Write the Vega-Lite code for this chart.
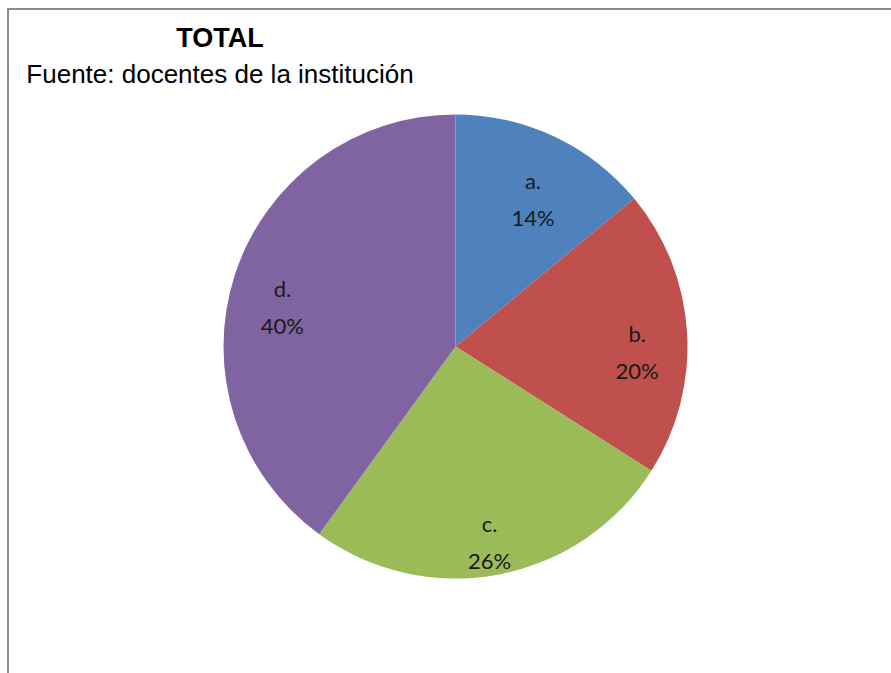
{
  "$schema": "https://vega.github.io/schema/vega-lite/v6.json",
  "width": 895,
  "height": 675,
  "autosize": {"type": "none"},
  "padding": {"left": 8, "top": 9, "right": 0, "bottom": 0},
  "background": "white",
  "view": {"stroke": "#8c8c8c", "strokeWidth": 2, "fill": "white"},
  "config": {
    "text": {"lineBreak": "\n"}
  },
  "title": {
    "text": "TOTAL",
    "subtitle": "Fuente: docentes de la institución",
    "anchor": "start",
    "align": "center",
    "dx": 212,
    "offset": -80,
    "font": "Liberation Sans",
    "fontSize": 27,
    "fontWeight": "bold",
    "color": "#000000",
    "subtitleFont": "Liberation Sans",
    "subtitleFontSize": 26,
    "subtitleColor": "#000000",
    "subtitlePadding": 9
  },
  "data": {
    "values": [
      {"category": "a.", "value": 14, "label": "a.\n14%"},
      {"category": "b.", "value": 20, "label": "b.\n20%"},
      {"category": "c.", "value": 26, "label": "c.\n26%"},
      {"category": "d.", "value": 40, "label": "d.\n40%"}
    ]
  },
  "encoding": {
    "theta": {"field": "value", "type": "quantitative", "stack": true},
    "order": {"field": "category", "type": "ordinal", "sort": "ascending"}
  },
  "layer": [
    {
      "mark": {"type": "arc", "outerRadius": 232},
      "encoding": {
        "color": {
          "field": "category",
          "type": "nominal",
          "scale": {"domain": ["a.", "b.", "c.", "d."], "range": ["#4f81bd", "#c0504d", "#9bbb59", "#8064a2"]},
          "legend": null
        }
      }
    },
    {
      "mark": {"type": "text", "radius": 182, "font": "Lato", "fontSize": 22, "lineHeight": 37, "color": "#1a1a1a", "align": "center", "baseline": "middle"},
      "encoding": {
        "text": {"field": "label", "type": "nominal"}
      }
    }
  ]
}
